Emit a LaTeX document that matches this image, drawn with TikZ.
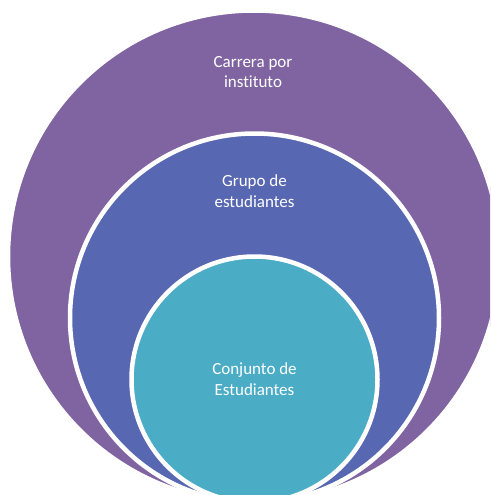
\documentclass[tikz,border=0pt]{standalone}
\usepackage{fontspec}
\setmainfont{Carlito}[Ligatures=NoCommon]
\definecolor{outerpurple}{HTML}{8064A2}
\definecolor{midblue}{HTML}{5867B2}
\definecolor{innerteal}{HTML}{4BACC6}
\tikzset{ring/.style={circle,draw=white,line width=4.5pt,inner sep=0pt},
         lbl/.style={text=white,align=center,font=\fontsize{17}{20.5}\selectfont}}

\begin{document}
\begin{tikzpicture}[x=1pt,y=-1pt]
    \clip (0,0) rectangle (490,495);
    % stacked circles, all touching at the bottom
    \node[ring,fill=outerpurple,minimum size=492pt] (outer) at (254,256.5) {};
    \node[ring,fill=midblue,minimum size=369pt] (middle) at (254.5,318) {};
    \node[ring,fill=innerteal,minimum size=246pt] (inner) at (254.5,379.5) {};
    \node[lbl] (carrera) at (253,72) {Carrera por\\instituto};
    \node[lbl] (grupo) at (254.5,191) {Grupo de\\estudiantes};
    \node[lbl] (conjunto) at (254.5,379) {Conjunto de\\Estudiantes};
\end{tikzpicture}
\end{document}
